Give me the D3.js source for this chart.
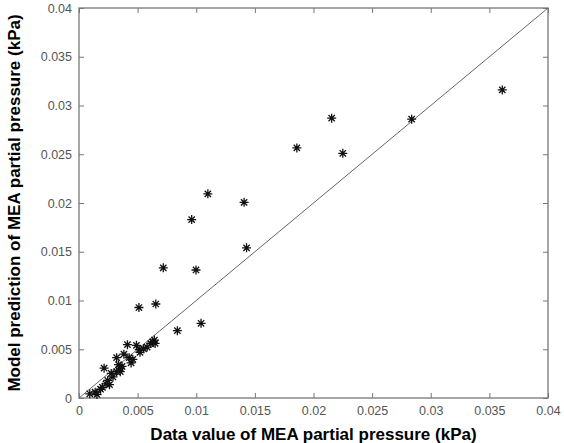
<!DOCTYPE html>
<html>
<head>
<meta charset="utf-8">
<script src="https://cdn.jsdelivr.net/npm/d3@7"></script>
<style>
  body { margin: 0; background: #fff; }
  text { font-family: "Liberation Sans", Arial, sans-serif; }
</style>
</head>
<body>
<div id="chart"></div>
<script>
// measured MEA partial pressure (kPa)
var dataValue = [0.0361, 0.02155, 0.02837, 0.01858, 0.0225, 0.01099, 0.01408, 0.00961,
  0.01429, 0.00719, 0.00998, 0.00655, 0.00511, 0.01041, 0.00839,
  0.00413, 0.0049, 0.00627, 0.00643, 0.00612, 0.00649, 0.00551, 0.0052, 0.00514,
  0.00383, 0.00321, 0.00444, 0.00337, 0.00352, 0.00321, 0.00214, 0.00275, 0.00245,
  0.00184, 0.00153, 0.00092, 0.0026, 0.002, 0.00352, 0.00367, 0.00459, 0.00581,
  0.00428, 0.00138, 0.0029, 0.0023];
// model prediction (kPa)
var modelValue = [0.0316, 0.0287, 0.0286, 0.02565, 0.0251, 0.02094, 0.02007, 0.0183,
  0.0154, 0.01335, 0.01313, 0.00964, 0.00928, 0.00766, 0.00691,
  0.00547, 0.0054, 0.00576, 0.00594, 0.00558, 0.0056, 0.00504, 0.00468, 0.00496,
  0.0045, 0.00414, 0.0036, 0.00342, 0.00306, 0.0027, 0.00306, 0.00252, 0.0018,
  0.0009, 0.00036, 0.00043, 0.00137, 0.0011, 0.0027, 0.00324, 0.00396, 0.00522,
  0.00414, 0.0006, 0.00216, 0.00144];
var tickValues = [0, 0.005, 0.01, 0.015, 0.02, 0.025, 0.03, 0.035, 0.04];
var parityLine = [0, 0.04];

var width = 564, height = 443;
var margin = {left: 79, right: 16, top: 8, bottom: 45};

var svg = d3.select("#chart").append("svg")
  .attr("width", width)
  .attr("height", height);

var x = d3.scaleLinear().domain([0, 0.04])
  .range([margin.left, width - margin.right]);
var y = d3.scaleLinear().domain([0, 0.04])
  .range([height - margin.bottom, margin.top]);

var fmt = function(d) { return String(+d.toFixed(3)); };

// inward ticks on all four sides, like a matlab box
function styleAxis(g) {
  g.select(".domain").remove();
  g.selectAll(".tick line").attr("stroke", "#777");
  g.selectAll(".tick text").attr("fill", "#555").style("font-size", "12.5px");
}

svg.append("g")
  .attr("transform", "translate(0," + y(0) + ")")
  .call(d3.axisBottom(x).tickValues(tickValues).tickFormat(fmt).tickSizeInner(-5).tickSizeOuter(0).tickPadding(8))
  .call(styleAxis);
svg.append("g")
  .attr("transform", "translate(0," + y(0.04) + ")")
  .call(d3.axisTop(x).tickValues(tickValues).tickFormat("").tickSizeInner(-5).tickSizeOuter(0))
  .call(styleAxis);
svg.append("g")
  .attr("transform", "translate(" + x(0) + ",0)")
  .call(d3.axisLeft(y).tickValues(tickValues).tickFormat(fmt).tickSizeInner(-5).tickSizeOuter(0).tickPadding(7))
  .call(styleAxis);
svg.append("g")
  .attr("transform", "translate(" + x(0.04) + ",0)")
  .call(d3.axisRight(y).tickValues(tickValues).tickFormat("").tickSizeInner(-5).tickSizeOuter(0))
  .call(styleAxis);

// box
svg.append("rect")
  .attr("x", x(0)).attr("y", y(0.04))
  .attr("width", x(0.04) - x(0)).attr("height", y(0) - y(0.04))
  .attr("fill", "none").attr("stroke", "#777").attr("stroke-width", 1.3);

// y = x line
svg.append("line")
  .attr("x1", x(parityLine[0])).attr("y1", y(parityLine[0]))
  .attr("x2", x(parityLine[1])).attr("y2", y(parityLine[1]))
  .attr("stroke", "#666").attr("stroke-width", 1);

// star markers
var r = 4.5;
var star = "M" + (-r) + ",0H" + r + "M0," + (-r) + "V" + r +
  "M" + (-r * 0.7) + "," + (-r * 0.7) + "L" + (r * 0.7) + "," + (r * 0.7) +
  "M" + (-r * 0.7) + "," + (r * 0.7) + "L" + (r * 0.7) + "," + (-r * 0.7);

svg.append("g").selectAll("path")
  .data(dataValue)
  .enter()
  .append("path")
  .attr("d", star)
  .attr("transform", function(d, i) { return "translate(" + x(d) + "," + y(modelValue[i]) + ")"; })
  .attr("stroke", "#111")
  .attr("stroke-width", 1.3)
  .attr("fill", "none");

// axis titles
svg.append("text")
  .attr("x", (x(0) + x(0.04)) / 2)
  .attr("y", height - 3)
  .attr("text-anchor", "middle")
  .style("font-size", "17px")
  .style("font-weight", "bold")
  .text("Data value of MEA partial pressure (kPa)");

svg.append("text")
  .attr("transform", "translate(20," + ((y(0) + y(0.04)) / 2) + ") rotate(-90)")
  .attr("text-anchor", "middle")
  .style("font-size", "17px")
  .style("font-weight", "bold")
  .text("Model prediction of MEA partial pressure (kPa)");
</script>
</body>
</html>
